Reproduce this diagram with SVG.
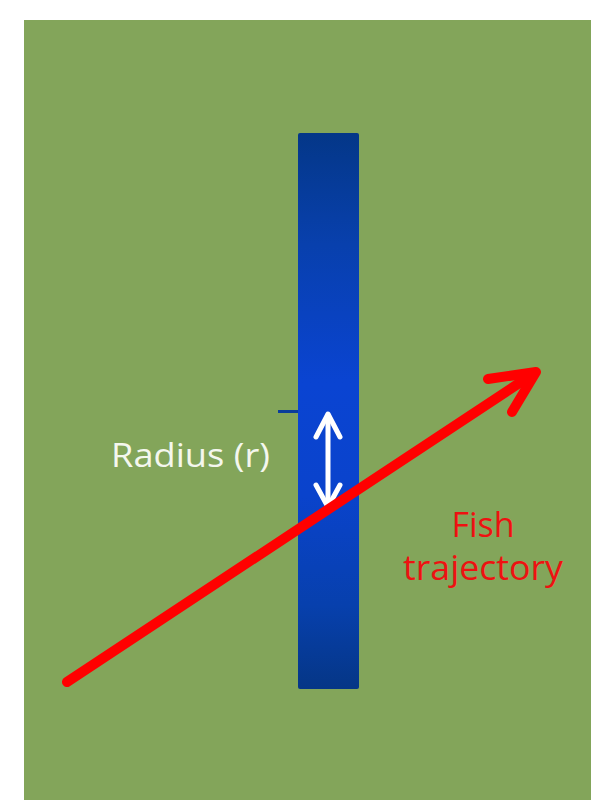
<svg xmlns="http://www.w3.org/2000/svg" width="591" height="800" viewBox="0 0 591 800">
<defs>
<linearGradient id="barGrad" x1="0" y1="0" x2="0" y2="1">
<stop offset="0" stop-color="#043788"/>
<stop offset="0.2" stop-color="#0840ad"/>
<stop offset="0.45" stop-color="#0a44d2"/>
<stop offset="0.65" stop-color="#0a43cc"/>
<stop offset="0.85" stop-color="#0740ad"/>
<stop offset="1" stop-color="#053686"/>
</linearGradient>
<style>
.lbl{font-family:"Open Sans","Liberation Sans",sans-serif;}
.red{stroke:#ff0000;stroke-width:10;fill:none;stroke-linecap:round;stroke-linejoin:round;}
.wht{stroke:#ffffff;stroke-width:5;fill:none;stroke-linecap:round;stroke-linejoin:round;}
</style>
</defs>
<rect x="0" y="0" width="591" height="800" fill="#ffffff"/>
<rect x="24" y="20" width="567" height="780" fill="#83a55a"/>
<g id="bar">
<rect x="298" y="133" width="61" height="556" rx="2" fill="url(#barGrad)"/>
<line x1="278" y1="411.5" x2="298" y2="411.5" stroke="#0a3d9a" stroke-width="3"/>
</g>
<g id="radius-label">
<text class="lbl" x="111" y="467" font-size="33" fill="#f4f7ee" textLength="159" lengthAdjust="spacingAndGlyphs">Radius (r)</text>
</g>
<g id="fish-label">
<text class="lbl" x="483" y="537" font-size="34" fill="#ee1111" text-anchor="middle">Fish</text>
<text class="lbl" x="483" y="580" font-size="34" fill="#ee1111" text-anchor="middle" textLength="160" lengthAdjust="spacingAndGlyphs">trajectory</text>
</g>
<g id="connectors">
<g id="radius-arrow">
<line class="wht" x1="328" y1="415" x2="328" y2="506"/>
<polyline class="wht" points="316,437 328,414 340,437"/>
<polyline class="wht" points="316,485 328,507 340,485"/>
</g>
<g id="trajectory">
<line class="red" x1="67" y1="682" x2="533" y2="374"/>
<polyline class="red" points="488,379 536,372 512,412"/>
</g>
</g>
</svg>
